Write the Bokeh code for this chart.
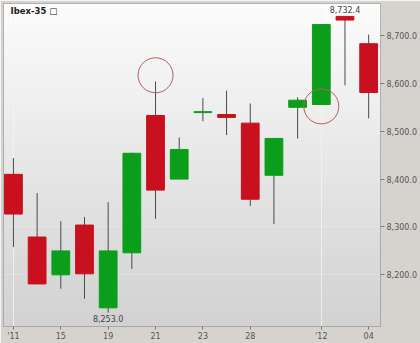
import numpy as np
from bokeh.plotting import figure
from bokeh.models import (ColumnDataSource, FixedTicker, NumeralTickFormatter,
                          Label, Range1d)
from bokeh.embed import file_html
from bokeh.resources import INLINE

# ---- data ----
idx = list(range(16))
opens  = [8410, 8279, 8200, 8304, 8131, 8246, 8533, 8400, 8539, 8535, 8517, 8408, 8550, 8556, 8740, 8683]
closes = [8327, 8181, 8250, 8202, 8250, 8454, 8377, 8462, 8541, 8529, 8358, 8485, 8565, 8723, 8732.4, 8581]
highs  = [8444, 8371, 8312, 8321, 8352, 8455, 8604, 8487, 8569, 8585, 8558, 8486, 8571, 8723, 8740, 8702]
lows   = [8258, 8180, 8171, 8150, 8121, 8212, 8317, 8400, 8521, 8492, 8344, 8306, 8485, 8556, 8596, 8527]
tick_idx = [0, 2, 4, 6, 8, 10, 13, 15]
tick_labels = ["'11", "15", "19", "21", "23", "28", "'12", "04"]
y_ticks = [8200, 8300, 8400, 8500, 8600, 8700]
circle_idx = [6, 13]
circle_vals = [8617, 8552]
low_label = "8,253.0"
high_label = "8,732.4"
low_label_idx = 4
high_label_idx = 14

RED = "#c8101e"
GREEN = "#0a9e1a"

x0, x1 = -0.42, 15.5
y0, y1 = 8092, 8767

p = figure(width=420, height=343, output_backend="svg", toolbar_location=None,
           x_range=Range1d(x0, x1), y_range=Range1d(y0, y1),
           y_axis_location="right",
           min_border_left=3, min_border_right=37, min_border_top=3, min_border_bottom=16)
p.border_fill_color = "#d6d3cf"
p.background_fill_color = "#e6e6e6"
p.outline_line_color = "#9a9a9a"

# gradient background
n = 64
t = np.linspace(0, 1, n)  # bottom -> top
c = (0xd2 + (0xfc - 0xd2) * t).astype(np.uint32)
img = np.zeros((n, 1), dtype=np.uint32)
view = img.view(dtype=np.uint8).reshape((n, 1, 4))
view[:, 0, 0] = c
view[:, 0, 1] = c
view[:, 0, 2] = c
view[:, 0, 3] = 255
p.image_rgba(image=[img], x=x0, y=y0, dw=x1 - x0, dh=y1 - y0, level="image")

# grids
p.xgrid.ticker = FixedTicker(ticks=[0, 13])
p.xgrid.grid_line_color = "#f4f4f4"
p.xgrid.grid_line_alpha = 0.8
p.ygrid.ticker = FixedTicker(ticks=y_ticks)
p.ygrid.grid_line_color = "#f2f2f2"
p.ygrid.grid_line_alpha = 0.35

colors = [GREEN if c_ >= o_ else RED for o_, c_ in zip(opens, closes)]
src = ColumnDataSource(dict(
    x=idx, top=[max(a, b) for a, b in zip(opens, closes)],
    bottom=[min(a, b) for a, b in zip(opens, closes)],
    high=highs, low=lows, color=colors))

p.segment(x0="x", y0="high", x1="x", y1="low", source=src, line_color="#4a4a4a", line_width=1)
p.vbar(x="x", width=0.75, top="top", bottom="bottom", source=src,
       fill_color="color", line_color="color", line_width=1)

# highlight circles
p.scatter(x=circle_idx, y=circle_vals, size=35, fill_color=None,
          line_color="#b56060", line_width=1)

# min / max labels
p.add_layout(Label(x=idx[low_label_idx], y=lows[low_label_idx], text=low_label,
                   text_align="center", text_baseline="top", y_offset=-2,
                   text_font="DejaVu Sans", text_font_size="8px", text_color="#444444"))
p.add_layout(Label(x=idx[high_label_idx], y=highs[high_label_idx], text=high_label,
                   text_align="center", text_baseline="bottom", y_offset=3,
                   text_font="DejaVu Sans", text_font_size="8px", text_color="#444444"))

# title
p.add_layout(Label(x=x0, y=y1, text="Ibex-35 \u25a1", x_offset=7, y_offset=-2,
                   text_baseline="top", text_font="DejaVu Sans", text_font_style="bold",
                   text_font_size="8.5px", text_color="#222222"))

# axes
p.xaxis.ticker = FixedTicker(ticks=tick_idx)
p.xaxis.major_label_overrides = {i: l for i, l in zip(tick_idx, tick_labels)}
p.yaxis.ticker = FixedTicker(ticks=y_ticks)
p.yaxis.formatter = NumeralTickFormatter(format="0,0.0")
for ax in (p.xaxis, p.yaxis):
    ax.axis_line_color = None
    ax.major_tick_line_color = "#777777"
    ax.major_tick_in = 0
    ax.minor_tick_line_color = None
    ax.major_label_text_font = "DejaVu Sans"
    ax.major_label_text_font_size = "8px"
    ax.major_label_text_color = "#555555"
p.xaxis.major_tick_out = 3
p.yaxis.major_tick_out = 4
p.xaxis.major_label_standoff = 2
p.yaxis.major_label_standoff = 2

open("out.html", "w").write(file_html(p, INLINE))
